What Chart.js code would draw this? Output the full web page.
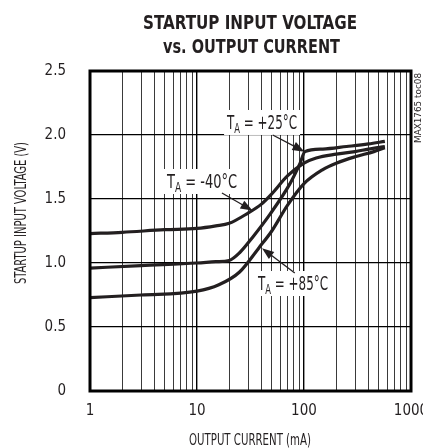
<!DOCTYPE html>
<html lang="en">
<head>
    <meta charset="UTF-8">
    <title>Startup Input Voltage vs. Output Current</title>
    <script src="https://cdn.jsdelivr.net/npm/chart.js"></script>
    <style>
        html, body { margin: 0; padding: 0; background: #fff; }
        #wrap { position: relative; width: 423px; height: 448px; }
    </style>
</head>
<body>
    <div id="wrap">
        <canvas id="grafico"></canvas>
    </div>
<script>
    // output current (mA) and startup voltage (V) for each temperature
    var correnteM40 = [1, 2, 5, 10, 15, 20, 30, 40, 50, 70, 100, 130, 200, 300, 400, 570];
    var tensaoM40 = [1.23, 1.24, 1.26, 1.27, 1.29, 1.31, 1.39, 1.46, 1.54, 1.68, 1.78, 1.82, 1.85, 1.87, 1.89, 1.91];

    var corrente25 = [1, 3, 10, 15, 20, 25, 33, 48, 74, 92, 102, 150, 250, 400, 570];
    var tensao25 = [0.96, 0.98, 1.0, 1.01, 1.02, 1.08, 1.20, 1.38, 1.62, 1.78, 1.87, 1.89, 1.91, 1.93, 1.95];

    var corrente85 = [1, 3, 10, 16, 25, 38, 50, 70, 100, 150, 200, 300, 450, 570];
    var tensao85 = [0.73, 0.75, 0.78, 0.83, 0.93, 1.12, 1.25, 1.45, 1.62, 1.73, 1.78, 1.83, 1.87, 1.90];

    var ticksX = [1, 2, 3, 4, 5, 6, 7, 8, 9, 10, 20, 30, 40, 50, 60, 70, 80, 90, 100, 200, 300, 400, 500, 600, 700, 800, 900, 1000];
    var decadas = [1, 10, 100, 1000];

    function pontos(xs, ys) {
        return xs.map(function (x, i) { return { x: x, y: ys[i] }; });
    }

    var fonteNarrow = '"Liberation Sans Narrow", "DejaVu Sans Condensed", Arial, sans-serif';

    // draws text squeezed/stretched to a given width
    function textoLargura(ctx, txt, x, y, largura) {
        var w = ctx.measureText(txt).width;
        ctx.save();
        ctx.translate(x, y);
        ctx.scale(largura / w, 1);
        ctx.fillText(txt, 0, 0);
        ctx.restore();
    }

    // "T" + subscript "A" + rest, squeezed into 70px
    function rotulo(ctx, x, y, resto) {
        var largura = 70;
        ctx.save();
        ctx.font = '20px ' + fonteNarrow;
        var wT = ctx.measureText('T').width;
        var wR = ctx.measureText(resto).width;
        ctx.font = '14px ' + fonteNarrow;
        var wA = ctx.measureText('A').width;
        var k = largura / (wT + wA + wR);

        ctx.fillStyle = '#fff';
        ctx.fillRect(x - 3, y - 19, largura + 6, 25);

        ctx.translate(x, y);
        ctx.scale(k, 1);
        ctx.fillStyle = '#231f20';
        ctx.textBaseline = 'alphabetic';
        ctx.textAlign = 'left';
        ctx.font = '20px ' + fonteNarrow;
        ctx.fillText('T', 0, 0);
        ctx.font = '14px ' + fonteNarrow;
        ctx.fillText('A', wT, 4);
        ctx.font = '20px ' + fonteNarrow;
        ctx.fillText(resto, wT + wA, 0);
        ctx.restore();
    }

    function seta(ctx, x1, y1, x2, y2) {
        var ang = Math.atan2(y2 - y1, x2 - x1);
        var tam = 12;
        ctx.save();
        ctx.strokeStyle = '#231f20';
        ctx.fillStyle = '#231f20';
        ctx.lineWidth = 1.3;
        ctx.beginPath();
        ctx.moveTo(x1, y1);
        ctx.lineTo(x2 - tam * 0.8 * Math.cos(ang), y2 - tam * 0.8 * Math.sin(ang));
        ctx.stroke();
        ctx.beginPath();
        ctx.moveTo(x2, y2);
        ctx.lineTo(x2 - tam * Math.cos(ang) + 4.5 * Math.sin(ang), y2 - tam * Math.sin(ang) - 4.5 * Math.cos(ang));
        ctx.lineTo(x2 - tam * Math.cos(ang) - 4.5 * Math.sin(ang), y2 - tam * Math.sin(ang) + 4.5 * Math.cos(ang));
        ctx.closePath();
        ctx.fill();
        ctx.restore();
    }

    var extras = {
        id: 'extras',
        beforeDatasetsDraw: function (chart) {
            var ctx = chart.ctx;
            var sx = chart.scales.x;
            var sy = chart.scales.y;
            // labels sit on white patches over the grid
            rotulo(ctx, sx.getPixelForValue(19.1), sy.getPixelForValue(2.047), ' = +25°C');
            rotulo(ctx, sx.getPixelForValue(5.24), sy.getPixelForValue(1.586), ' = -40°C');
            rotulo(ctx, sx.getPixelForValue(37.2), sy.getPixelForValue(0.789), ' = +85°C');
        },
        afterDatasetsDraw: function (chart) {
            var ctx = chart.ctx;
            var sx = chart.scales.x;
            var sy = chart.scales.y;
            var a = chart.chartArea;

            seta(ctx, sx.getPixelForValue(51), sy.getPixelForValue(2.0), sx.getPixelForValue(101), sy.getPixelForValue(1.87));
            seta(ctx, sx.getPixelForValue(17.1), sy.getPixelForValue(1.547), sx.getPixelForValue(33), sy.getPixelForValue(1.41));
            seta(ctx, sx.getPixelForValue(82), sy.getPixelForValue(0.922), sx.getPixelForValue(40.5), sy.getPixelForValue(1.115));

            // frame
            ctx.save();
            ctx.strokeStyle = '#000';
            ctx.lineWidth = 3;
            ctx.strokeRect(a.left, a.top, a.right - a.left, a.bottom - a.top);
            ctx.restore();
        },
        afterDraw: function (chart) {
            var ctx = chart.ctx;
            ctx.save();
            ctx.fillStyle = '#231f20';
            ctx.textAlign = 'left';
            ctx.textBaseline = 'alphabetic';
            ctx.font = 'bold 20px ' + fonteNarrow;
            textoLargura(ctx, 'STARTUP INPUT VOLTAGE', 143, 29, 214);
            textoLargura(ctx, 'vs. OUTPUT CURRENT', 163, 53, 177);

            ctx.font = '15px ' + fonteNarrow;
            textoLargura(ctx, 'OUTPUT CURRENT (mA)', 189, 445, 122);

            ctx.save();
            ctx.translate(26, 284);
            ctx.rotate(-Math.PI / 2);
            textoLargura(ctx, 'STARTUP INPUT VOLTAGE (V)', 0, 0, 142);
            ctx.restore();

            ctx.save();
            ctx.font = '9px ' + fonteNarrow;
            ctx.translate(421, 143);
            ctx.rotate(-Math.PI / 2);
            textoLargura(ctx, 'MAX1765 toc08', 0, 0, 70);
            ctx.restore();
            ctx.restore();
        }
    };

    function serie(xs, ys) {
        return {
            data: pontos(xs, ys),
            borderColor: '#231f20',
            borderWidth: 3.2,
            pointRadius: 0,
            fill: false,
            cubicInterpolationMode: 'monotone'
        };
    }

    var config = {
        type: 'line',
        data: {
            datasets: [
                serie(correnteM40, tensaoM40),
                serie(corrente25, tensao25),
                serie(corrente85, tensao85)
            ]
        },
        options: {
            responsive: false,
            animation: false,
            devicePixelRatio: 1,
            layout: { padding: { left: 0, right: 12, top: 71, bottom: 0 } },
            plugins: {
                legend: { display: false },
                tooltip: { enabled: false },
                title: { display: false }
            },
            scales: {
                x: {
                    type: 'logarithmic',
                    min: 1,
                    max: 1000,
                    afterBuildTicks: function (scale) {
                        scale.ticks = ticksX.map(function (v) { return { value: v }; });
                    },
                    afterFit: function (scale) {
                        scale.height = 57;
                        scale.paddingLeft = 0;
                        scale.paddingRight = 0;
                    },
                    border: { display: false },
                    grid: {
                        drawTicks: false,
                        color: function (c) {
                            return decadas.indexOf(c.tick.value) >= 0 ? '#000' : '#3a3a3a';
                        },
                        lineWidth: function (c) {
                            return decadas.indexOf(c.tick.value) >= 0 ? 1.4 : 1;
                        }
                    },
                    ticks: {
                        autoSkip: false,
                        maxRotation: 0,
                        padding: 11,
                        color: '#231f20',
                        font: { family: fonteNarrow, size: 15 },
                        callback: function (v) {
                            return decadas.indexOf(v) >= 0 ? String(v) : '';
                        }
                    }
                },
                y: {
                    min: 0,
                    max: 2.5,
                    afterFit: function (scale) {
                        scale.width = 90;
                        scale.paddingTop = 0;
                        scale.paddingBottom = 0;
                    },
                    border: { display: false },
                    grid: { drawTicks: false, color: '#000', lineWidth: 1.2 },
                    ticks: {
                        stepSize: 0.5,
                        padding: 24,
                        color: '#231f20',
                        font: { family: fonteNarrow, size: 15 },
                        callback: function (v) { return v === 0 ? '0' : v.toFixed(1); }
                    }
                }
            }
        },
        plugins: [extras]
    };

    var canvas = document.getElementById('grafico');
    canvas.width = 423;
    canvas.height = 448;
    var grafico = new Chart(canvas, config);
</script>
</body>
</html>
